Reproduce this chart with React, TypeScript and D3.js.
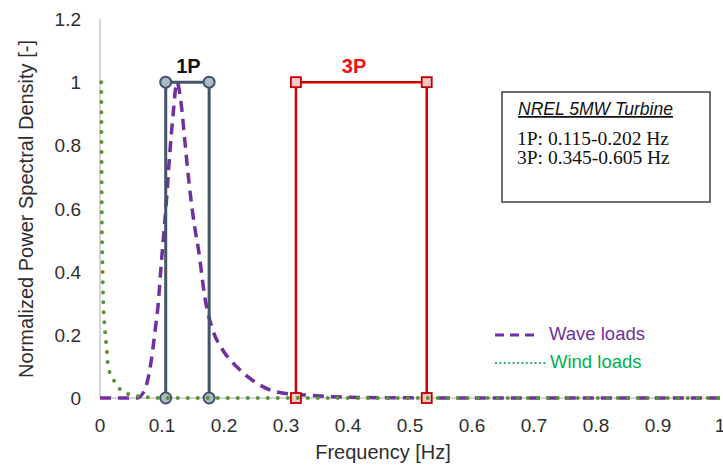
import React, { useEffect, useRef } from 'react'
import * as d3 from 'd3'

// wave loads spectrum
const waveFreq = [0, 0.06, 0.072, 0.082, 0.089, 0.094, 0.098, 0.102, 0.107, 0.112, 0.118, 0.124, 0.131, 0.137, 0.144, 0.153, 0.159, 0.169, 0.182, 0.198, 0.221, 0.253, 0.285, 0.334, 0.376, 0.45, 0.6, 0.8, 1.0]
const waveDensity = [0, 0, 0.025, 0.11, 0.215, 0.3, 0.405, 0.5, 0.62, 0.76, 0.9, 1.0, 0.93, 0.81, 0.674, 0.538, 0.468, 0.32, 0.215, 0.152, 0.098, 0.047, 0.019, 0.009, 0.004, 0.001, 0, 0, 0]

// wind loads spectrum
const windFreq = [0.002, 0.0025, 0.003, 0.004, 0.005, 0.008, 0.011, 0.013, 0.02, 0.027, 0.04, 0.073, 0.1, 1.0]
const windDensity = [1, 0.8, 0.55, 0.43, 0.32, 0.215, 0.15, 0.1, 0.065, 0.041, 0.016, 0.003, 0, 0]

// rotor frequency bands as drawn
const band1P = [0.106, 0.176]
const band3P = [0.316, 0.527]

const xTicks = [0, 0.1, 0.2, 0.3, 0.4, 0.5, 0.6, 0.7, 0.8, 0.9, 1]
const yTicks = [0, 0.2, 0.4, 0.6, 0.8, 1, 1.2]

const infoTitle = 'NREL 5MW Turbine'
const infoLines = ['1P: 0.115-0.202 Hz', '3P: 0.345-0.605 Hz']

export default function App() {
  const ref = useRef<SVGSVGElement>(null)

  useEffect(() => {
    const svg = d3.select(ref.current)
    svg.selectAll('*').remove()

    const x = d3.scaleLinear().domain([0, 1]).range([100, 720])
    const y = d3.scaleLinear().domain([0, 1.2]).range([398, 19])
    const sans = 'Liberation Sans, Arial, sans-serif'
    const serif = 'Liberation Serif, serif'

    // axes lines
    svg.append('line').attr('x1', x(0)).attr('x2', x(0)).attr('y1', y(1.2)).attr('y2', y(0))
      .attr('stroke', '#c8c8c8').attr('stroke-width', 1.5)
    svg.append('line').attr('x1', x(0)).attr('x2', x(1)).attr('y1', y(0)).attr('y2', y(0))
      .attr('stroke', '#c8c8c8').attr('stroke-width', 1.5)

    // tick labels
    svg.append('g').selectAll('text').data(yTicks).enter().append('text')
      .attr('x', 81).attr('y', d => y(d) + 7)
      .attr('text-anchor', 'end').attr('font-family', sans).attr('font-size', 19).attr('fill', '#2e2e2e')
      .text(d => d3.format('~g')(d))
    svg.append('g').selectAll('text').data(xTicks).enter().append('text')
      .attr('x', d => x(d)).attr('y', 432)
      .attr('text-anchor', 'middle').attr('font-family', sans).attr('font-size', 19).attr('fill', '#2e2e2e')
      .text(d => d3.format('~g')(d))

    // axis titles
    svg.append('text').attr('x', 383).attr('y', 459).attr('text-anchor', 'middle')
      .attr('font-family', sans).attr('font-size', 20).attr('fill', '#2e2e2e').text('Frequency [Hz]')
    svg.append('text').attr('transform', 'translate(33,209) rotate(-90)').attr('text-anchor', 'middle')
      .attr('font-family', sans).attr('font-size', 20).attr('fill', '#2e2e2e')
      .text('Normalized Power Spectral Density [-]')

    const line = d3.line<[number, number]>().x(d => x(d[0])).y(d => y(d[1])).curve(d3.curveMonotoneX)

    // wave curve
    svg.append('path').datum(waveFreq.map((f, i) => [f, waveDensity[i]] as [number, number]))
      .attr('d', line).attr('fill', 'none').attr('stroke', '#7030a0').attr('stroke-width', 3.5)
      .attr('stroke-dasharray', '11 7')

    // 1P band
    const boxPath = (b: number[]) => `M${x(b[0])},${y(0)}L${x(b[0])},${y(1)}L${x(b[1])},${y(1)}L${x(b[1])},${y(0)}`
    svg.append('path').attr('d', boxPath(band1P)).attr('fill', 'none').attr('stroke', '#44546a').attr('stroke-width', 3)
    const pts1 = band1P.flatMap(f => [[f, 0], [f, 1]])
    svg.append('g').selectAll('circle').data(pts1).enter().append('circle')
      .attr('cx', d => x(d[0])).attr('cy', d => y(d[1])).attr('r', 5.5)
      .attr('fill', '#adb9ca').attr('stroke', '#44546a').attr('stroke-width', 2)
    svg.append('text').attr('x', (x(band1P[0]) + x(band1P[1])) / 2 + 1).attr('y', 73).attr('text-anchor', 'middle')
      .attr('font-family', sans).attr('font-size', 20).attr('font-weight', 'bold').attr('fill', '#111').text('1P')

    // 3P band
    svg.append('path').attr('d', boxPath(band3P)).attr('fill', 'none').attr('stroke', '#d40000').attr('stroke-width', 2.5)
    const pts3 = band3P.flatMap(f => [[f, 0], [f, 1]])
    svg.append('g').selectAll('rect').data(pts3).enter().append('rect')
      .attr('x', d => x(d[0]) - 5).attr('y', d => y(d[1]) - 5).attr('width', 10).attr('height', 10)
      .attr('fill', '#f6c9c9').attr('stroke', '#c00000').attr('stroke-width', 1.8)
    svg.append('text').attr('x', 354).attr('y', 73).attr('text-anchor', 'middle')
      .attr('font-family', sans).attr('font-size', 20).attr('font-weight', 'bold').attr('fill', '#ee1111').text('3P')

    // wind curve
    svg.append('path').datum(windFreq.map((f, i) => [f, windDensity[i]] as [number, number]))
      .attr('d', line).attr('fill', 'none').attr('stroke', '#5b9237').attr('stroke-width', 4)
      .attr('stroke-linecap', 'round').attr('stroke-dasharray', '0 10')

    // info box
    svg.append('rect').attr('x', 502).attr('y', 92).attr('width', 208).attr('height', 110)
      .attr('fill', 'white').attr('stroke', '#404040').attr('stroke-width', 1.5)
    svg.append('text').attr('x', 518).attr('y', 115).attr('font-family', sans).attr('font-size', 17.5)
      .attr('font-style', 'italic').attr('text-decoration', 'underline').attr('fill', '#111').text(infoTitle)
    svg.append('g').selectAll('text').data(infoLines).enter().append('text')
      .attr('x', 517).attr('y', (d, i) => 145 + i * 19)
      .attr('font-family', serif).attr('font-size', 19.5).attr('fill', '#111')
      .text(d => d)

    // legend
    svg.append('line').attr('x1', 495).attr('x2', 540).attr('y1', 335).attr('y2', 335)
      .attr('stroke', '#7030a0').attr('stroke-width', 3).attr('stroke-dasharray', '9 6')
    svg.append('text').attr('x', 549).attr('y', 340).attr('font-family', sans).attr('font-size', 18.5)
      .attr('fill', '#7030a0').text('Wave loads')
    svg.append('line').attr('x1', 496).attr('x2', 546).attr('y1', 363).attr('y2', 363)
      .attr('stroke', '#00b050').attr('stroke-width', 2.2).attr('stroke-linecap', 'round').attr('stroke-dasharray', '0 4.4')
    svg.append('text').attr('x', 550).attr('y', 368).attr('font-family', sans).attr('font-size', 18.5)
      .attr('fill', '#00b050').text('Wind loads')
  }, [])

  return (
    <svg ref={ref} width={723} height={468} style={{ position: 'absolute', left: 0, top: 0, background: 'white' }} />
  )
}
